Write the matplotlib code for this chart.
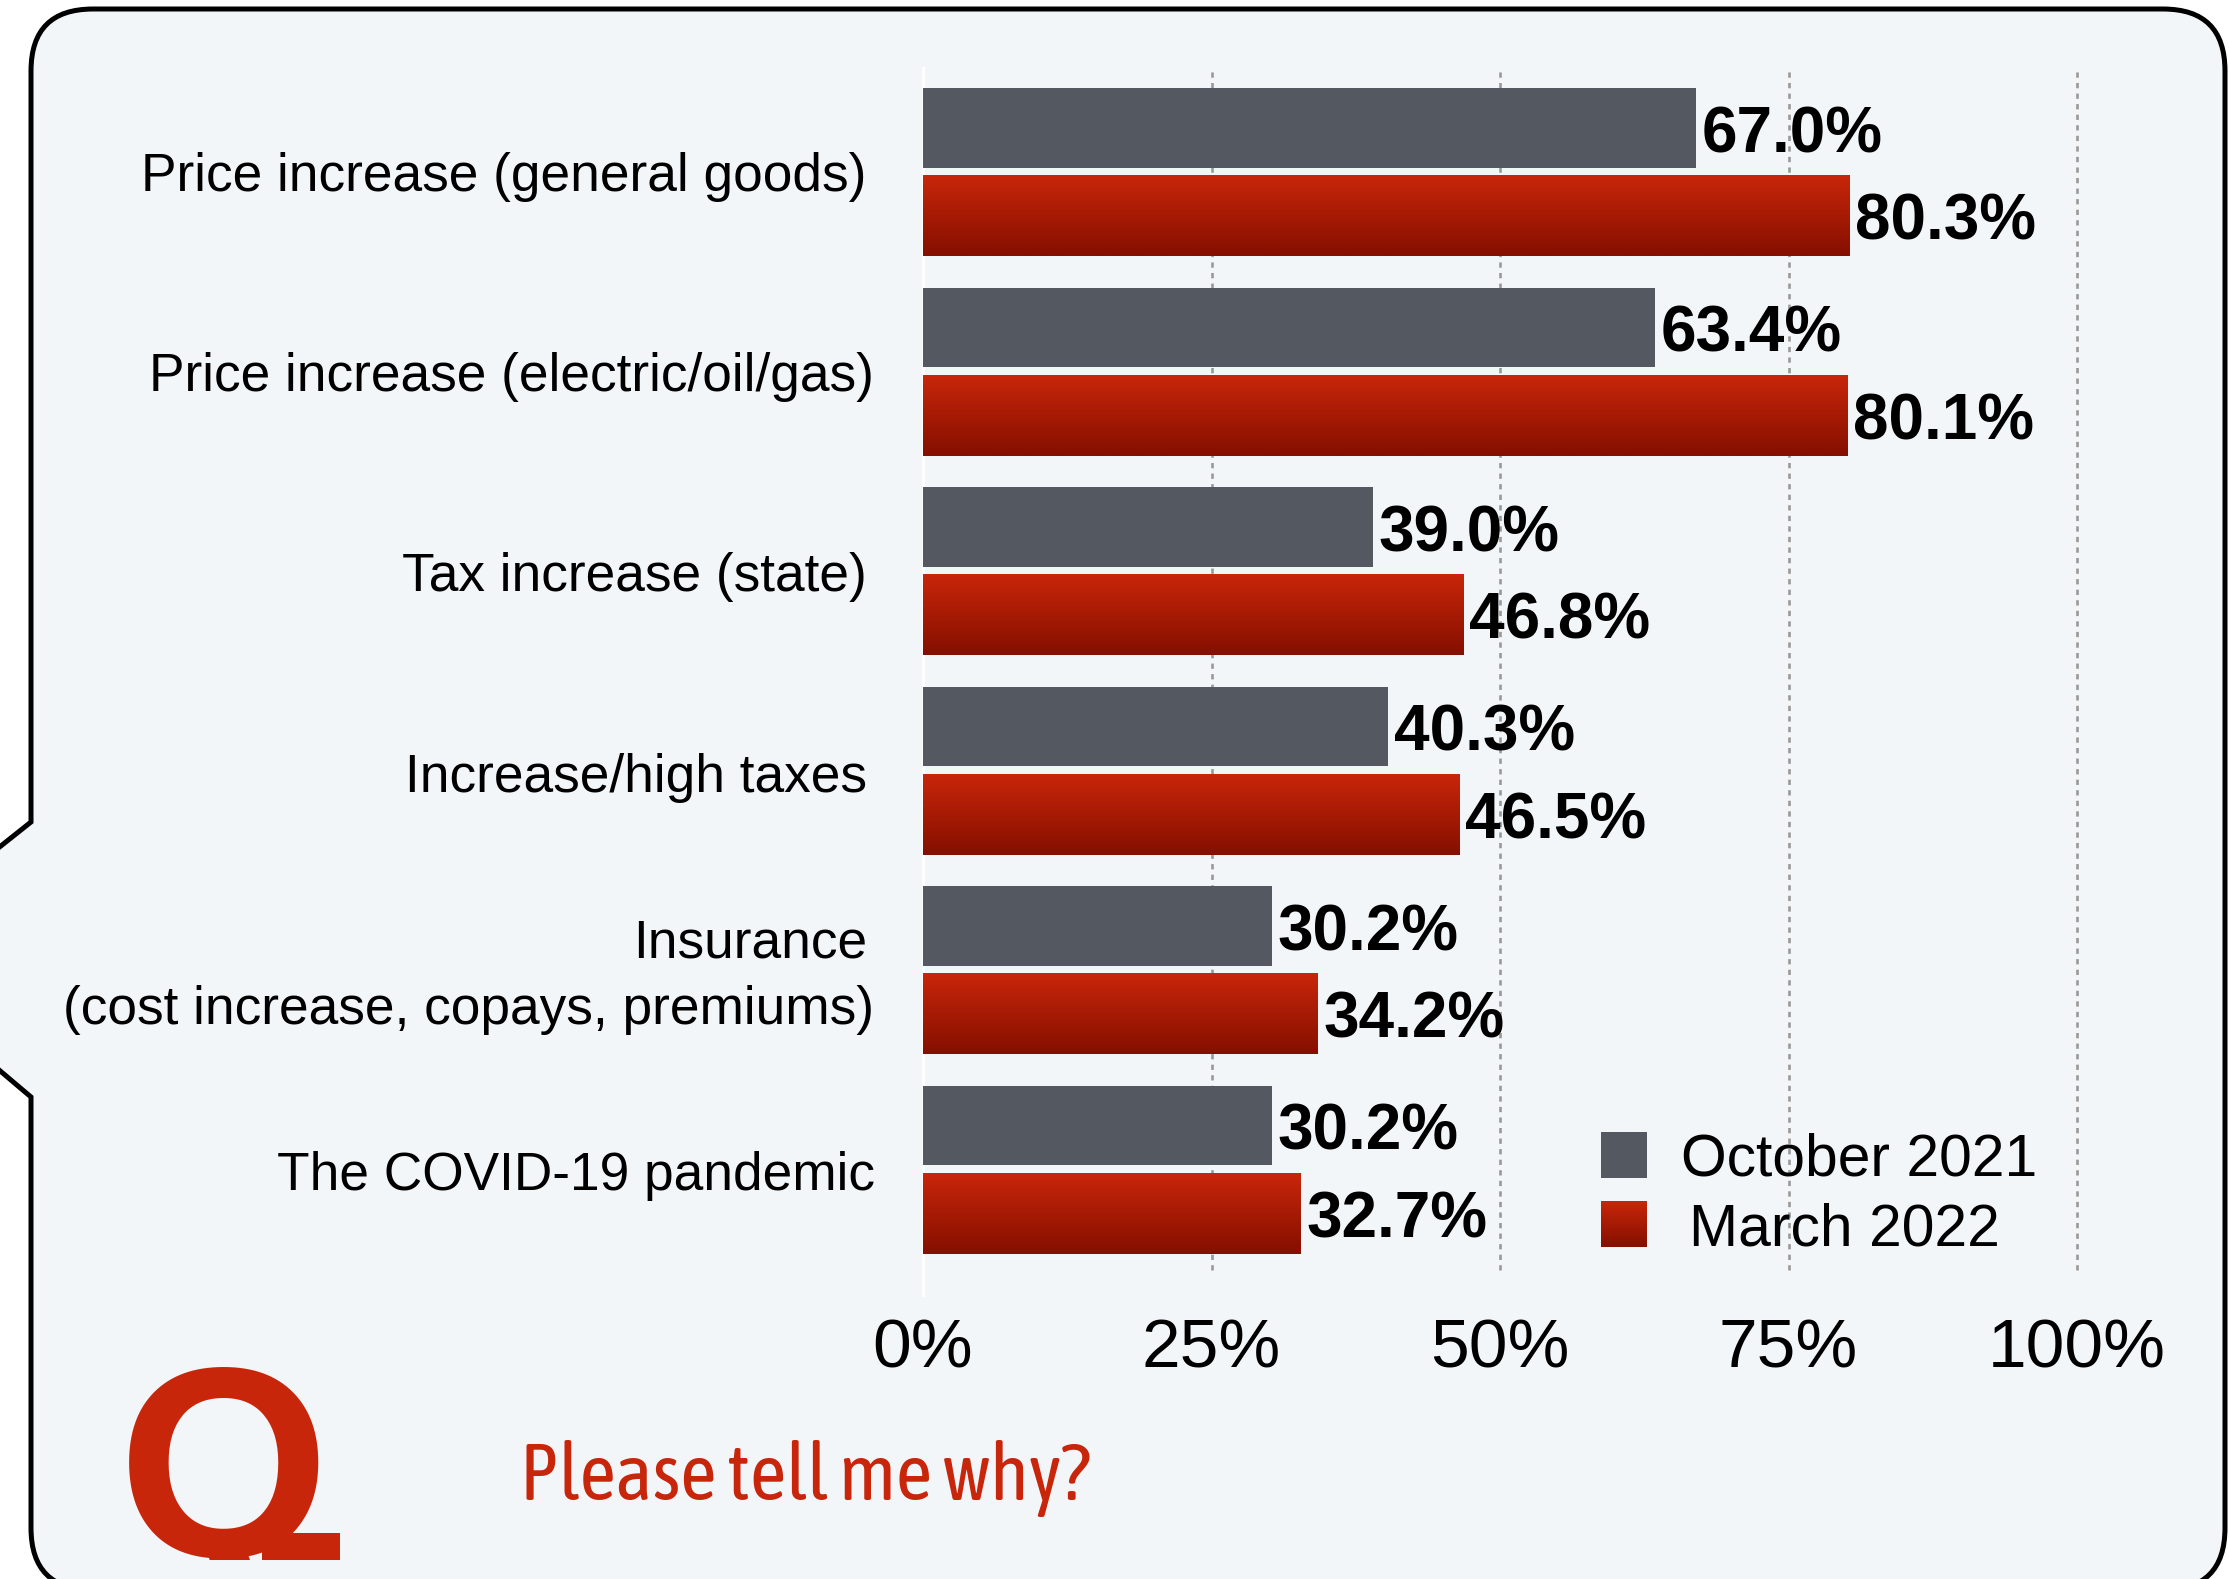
import numpy as np
import matplotlib
matplotlib.use("Agg")
import matplotlib.pyplot as plt
from matplotlib.path import Path
from matplotlib.patches import PathPatch, Rectangle
from matplotlib.transforms import Bbox, TransformedBbox

categories = ["Price increase (general goods)", "Price increase (electric/oil/gas)", "Tax increase (state)",
              "Increase/high taxes", "Insurance\n(cost increase, copays, premiums)", "The COVID-19 pandemic"]
oct_2021 = [67.0, 63.4, 39.0, 40.3, 30.2, 30.2]
mar_2022 = [80.3, 80.1, 46.8, 46.5, 34.2, 32.7]
ticks = [0, 25, 50, 75, 100]
series = ["October 2021", "March 2022"]

W, H = 2229, 1579
GRAY, RED, DARK, PANEL = "#545860", "#C8260A", "#850F00", "#F3F6F9"
plt.rcParams["font.family"] = ["Liberation Sans", "DejaVu Sans"]
fig = plt.figure(figsize=(W / 100, H / 100), dpi=100, facecolor="white")

bg = fig.add_axes([0, 0, 1, 1], zorder=0)
bg.set_xlim(0, W); bg.set_ylim(H, 0); bg.axis("off")
L, T, R, B, r = 31, 9, 2225, 1590, 62
verts = [(L + r, T), (R - r, T), (R, T), (R, T + r), (R, B - r), (R, B), (R - r, B), (L + r, B), (L, B), (L, B - r),
         (L, 1097), (-8, 1064), (-8, 853), (L, 822), (L, T + r), (L, T), (L + r, T)]
codes = [Path.MOVETO, Path.LINETO, Path.CURVE3, Path.CURVE3, Path.LINETO, Path.CURVE3, Path.CURVE3, Path.LINETO,
         Path.CURVE3, Path.CURVE3, Path.LINETO, Path.LINETO, Path.LINETO, Path.LINETO, Path.LINETO, Path.CURVE3, Path.CURVE3]
bg.add_patch(PathPatch(Path(verts, codes), fc=PANEL, ec="black", lw=3.6))

x0, x1, y0, y1 = 923, 2077, 71, 1270
ax = fig.add_axes([x0 / W, 1 - y1 / H, (x1 - x0) / W, (y1 - y0) / H], zorder=1)
ax.patch.set_alpha(0)
y = np.arange(len(categories))
off1, off2, h1, h2 = 0.218, 0.222, 0.40, 0.405
ax.barh(y - off1, oct_2021, height=h1, color=GRAY, zorder=3)
grad = np.linspace(0, 1, 64)[:, None]
cmap = matplotlib.colors.LinearSegmentedColormap.from_list("r", [RED, DARK])
for yi, v in zip(y, mar_2022):
    ax.imshow(grad, cmap=cmap, extent=[0, v, yi + off2 + h2 / 2, yi + off2 - h2 / 2], aspect="auto", zorder=3)
ax.set_xlim(0, 100); ax.set_ylim(5.506, -0.504)
ax.set_xticks(ticks, [f"{t}%" for t in ticks], fontsize=50)
ax.set_yticks([])
ax.tick_params(axis="x", length=0, pad=34)
for s in ax.spines.values():
    s.set_visible(False)
ax.grid(axis="x", color="#999999", lw=1.9, zorder=1, linestyle=(0, (2, 2)))
for gl in ax.get_xgridlines():
    gl.set_clip_on(False)
ax.get_xgridlines()[0].set_visible(False)
ax.set_axisbelow(True)
ax.plot([0, 0], [-0.52, 5.63], color="white", lw=2, clip_on=False, zorder=2)
for yi, a, b in zip(y, oct_2021, mar_2022):
    ax.annotate(f"{a:.1f}%", (a, yi - off1), xytext=(4.2, -5), textcoords="offset points", va="center", ha="left", fontsize=46, fontweight="bold", zorder=5)
    ax.annotate(f"{b:.1f}%", (b, yi + off2), xytext=(4.2, -5), textcoords="offset points", va="center", ha="left", fontsize=46, fontweight="bold", zorder=5)

fg = fig.add_axes([0, 0, 1, 1], zorder=2)
fg.set_xlim(0, W); fg.set_ylim(H, 0); fg.axis("off")
label_right = [866, 874, 867, 867, (867, 874), 875]
label_y = [177, 376.5, 577, 778, 975, 1176]
for c, xr, yc in zip(categories, label_right, label_y):
    if "\n" in c:
        first, second = c.split("\n")
        fg.text(xr[0], yc - 31, first, ha="right", va="center", fontsize=38.3)
        fg.text(xr[1], yc + 35, second, ha="right", va="center", fontsize=38.3)
    else:
        fg.text(xr, yc, c, ha="right", va="center", fontsize=38.3)

fg.add_patch(Rectangle((1601, 1132), 46, 46, fc=GRAY, ec="none"))
fg.imshow(grad, cmap=cmap, extent=[1601, 1647, 1247, 1201], aspect="auto")
fg.set_xlim(0, W); fg.set_ylim(H, 0)
fg.text(1681, 1175, series[0], fontsize=42.3, va="baseline")
fg.text(1689, 1245, series[1], fontsize=42.3, va="baseline")

fg.text(520, 1500, "Please tell me why?", color=RED, fontsize=57, va="baseline", family=["Asap Condensed", "Liberation Sans"])
q = fg.text(224, 1557, "Q", color=RED, fontsize=196, fontweight="bold", ha="center", va="baseline")
q.set_clip_box(TransformedBbox(Bbox([[90, 1340], [345, 1560]]), fg.transData))
q.set_clip_on(True)
fg.add_patch(Rectangle((262, 1533), 78, 27, fc=RED, ec="none"))

fig.savefig("out.png", dpi=100)
